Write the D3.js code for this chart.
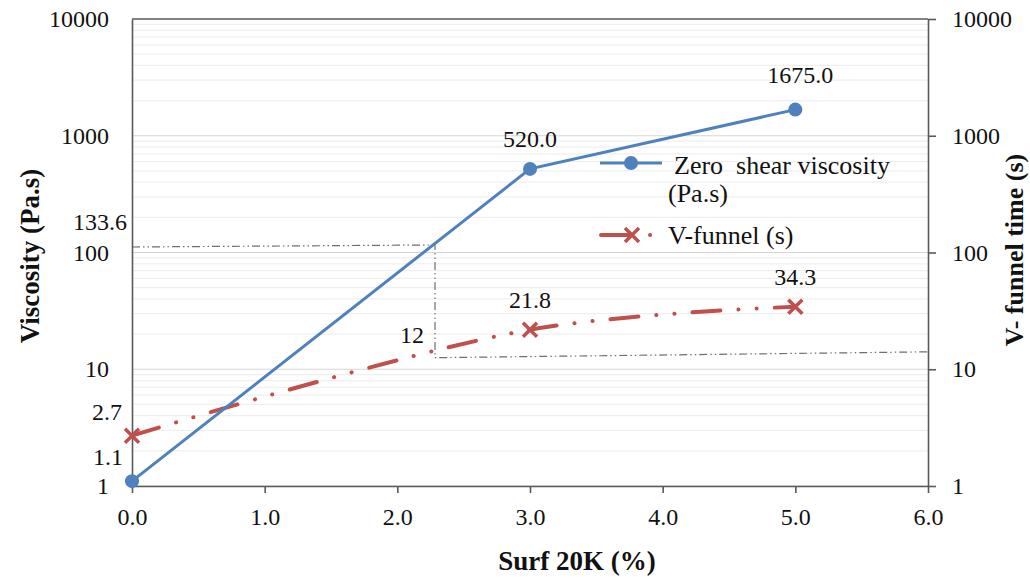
<!DOCTYPE html>
<html>
<head>
<meta charset="utf-8">
<script src="https://cdn.jsdelivr.net/npm/d3@7"></script>
<style>
  html, body { margin: 0; padding: 0; background: #fff; }
  svg { display: block; font-family: "Liberation Serif", "Times New Roman", serif; }
</style>
</head>
<body>
<svg id="chart" width="1030" height="578"></svg>
<script>
// ---------- data ----------
const surfX = [0, 3, 5];
const viscosity = [1.1, 520, 1675];
const vfunnel = [2.7, 21.8, 34.3];
const viscLabels = ["", "520.0", "1675.0"];
const vfunnelLabels = ["", "21.8", "34.3"];
const xTicks = [0, 1, 2, 3, 4, 5, 6];
const yTicks = [1, 10, 100, 1000, 10000];
const annotLabels = ["133.6", "2.7", "1.1", "12"];
const annotValues = [133.6, 2.7, 1.1, 12];
const annotXs = [0, 0, 0, 2.284];
const refLineX = [0, 2.284, 2.284, 6];
const refLineY = [111.5, 116, 12.56, 14.1];
const seriesNames = ["Zero  shear viscosity", "V-funnel (s)"];

// ---------- layout ----------
const L = 132, R = 928, T = 19, B = 486;
const svg = d3.select("#chart");
const x = d3.scaleLinear().domain([0, 6]).range([L, R]);
const y = d3.scaleLog().domain([1, 10000]).range([B, T]);
const blue = "#4F81BD", red = "#C0504D", axisCol = "#595959";

// gridlines
const gridVals = [];
for (let d = 1; d < 10000; d *= 10) for (let k = 1; k <= 9; k++) gridVals.push(d * k);
svg.append("g").selectAll("line").data(gridVals).join("line")
  .attr("x1", L).attr("x2", R)
  .attr("y1", d => y(d)).attr("y2", d => y(d))
  .attr("stroke", d => (Math.log10(d) % 1 === 0) ? "#d6d6d6" : "#efefef")
  .attr("stroke-width", 1.2);

// reference dash-dot-dot line
svg.append("path")
  .datum(refLineX.map((v, i) => [v, refLineY[i]]))
  .attr("d", d3.line().x(d => x(d[0])).y(d => y(d[1])))
  .attr("fill", "none").attr("stroke", "#6f6f6f").attr("stroke-width", 1.2)
  .attr("stroke-dasharray", "8,3,1.5,3,1.5,3");

// axes
const gL = svg.append("g").attr("transform", `translate(${L},0)`)
  .call(d3.axisLeft(y).tickValues(yTicks).tickFormat(d3.format("d")).tickSize(0).tickSizeOuter(0).tickPadding(23));
const gR = svg.append("g").attr("transform", `translate(${R},0)`)
  .call(d3.axisRight(y).tickValues(yTicks).tickFormat(d3.format("d")).tickSize(8).tickSizeOuter(0).tickPadding(16));
const gB = svg.append("g").attr("transform", `translate(0,${B})`)
  .call(d3.axisBottom(x).tickValues(xTicks).tickFormat(d3.format(".1f")).tickSize(7).tickSizeOuter(0).tickPadding(15));
[gL, gR, gB].forEach(g => {
  g.selectAll("path.domain").attr("stroke", axisCol).attr("stroke-width", 1.6);
  g.selectAll(".tick line").attr("stroke", axisCol).attr("stroke-width", 1.6);
  g.selectAll("text").attr("font-size", 24).attr("fill", "#111")
    .attr("font-family", "'Liberation Serif','Times New Roman',serif");
});
// top border
svg.append("line").attr("x1", L).attr("x2", R).attr("y1", T).attr("y2", T)
  .attr("stroke", axisCol).attr("stroke-width", 1.6);

// annotation labels (manual text boxes in original)
const annotDx = [-5, -10, -9, -11];
const annotDy = [-16, -24, -25, -25];
svg.append("g").selectAll("text").data(annotLabels).join("text")
  .attr("x", (d, i) => x(annotXs[i]) + annotDx[i])
  .attr("y", (d, i) => y(annotValues[i]) + annotDy[i])
  .attr("dy", "0.35em").attr("text-anchor", "end")
  .attr("font-size", 24).attr("fill", "#111").text(d => d);

// series lines
const viscData = surfX.map((v, i) => [v, viscosity[i], viscLabels[i]]);
const vfData = surfX.map((v, i) => [v, vfunnel[i], vfunnelLabels[i]]);

svg.append("path").datum(vfData)
  .attr("d", d3.line().x(d => x(d[0])).y(d => y(d[1])).curve(d3.curveCatmullRom.alpha(0.5)))
  .attr("fill", "none").attr("stroke", red).attr("stroke-width", 4)
  .attr("stroke-linecap", "round").attr("stroke-dasharray", "28,18,0.1,18,0.1,18");

svg.append("path").datum(viscData)
  .attr("d", d3.line().x(d => x(d[0])).y(d => y(d[1])))
  .attr("fill", "none").attr("stroke", blue).attr("stroke-width", 3);

// markers
svg.append("g").selectAll("circle").data(viscData).join("circle")
  .attr("cx", d => x(d[0])).attr("cy", d => y(d[1])).attr("r", 7).attr("fill", blue);

const xMark = (g, cx, cy, s) => {
  g.append("path")
    .attr("d", `M${cx - s},${cy - s}L${cx + s},${cy + s}M${cx - s},${cy + s}L${cx + s},${cy - s}`)
    .attr("stroke", red).attr("stroke-width", 3.5).attr("fill", "none");
};
const gX = svg.append("g");
vfData.forEach(d => xMark(gX, x(d[0]), y(d[1]), 7));

// data labels
svg.append("g").selectAll("text").data(viscData.concat(vfData)).join("text")
  .attr("x", d => x(d[0]) + (d[2] === "1675.0" ? 5 : 0))
  .attr("y", d => y(d[1]) - (d[2] === "1675.0" ? 35 : 30))
  .attr("dy", "0.35em").attr("text-anchor", "middle")
  .attr("font-size", 24).attr("fill", "#111").text(d => d[2]);

// legend
const lg = svg.append("g");
lg.append("line").attr("x1", 600).attr("x2", 662).attr("y1", 163).attr("y2", 163)
  .attr("stroke", blue).attr("stroke-width", 3);
lg.append("circle").attr("cx", 631).attr("cy", 163).attr("r", 7).attr("fill", blue);
lg.append("text").attr("x", 674).attr("y", 165).attr("dy", "0.35em")
  .attr("font-size", 26).attr("fill", "#111").style("white-space", "pre").text(seriesNames[0]);
lg.append("text").attr("x", 668).attr("y", 193).attr("dy", "0.35em")
  .attr("font-size", 26).attr("fill", "#111").text("(Pa.s)");
lg.append("line").attr("x1", 601).attr("x2", 652).attr("y1", 235).attr("y2", 235)
  .attr("stroke", red).attr("stroke-width", 4).attr("stroke-linecap", "round")
  .attr("stroke-dasharray", "30,19,0.1,100");
xMark(lg, 632, 235, 7);
lg.append("text").attr("x", 668).attr("y", 235).attr("dy", "0.35em")
  .attr("font-size", 26).attr("fill", "#111").text(seriesNames[1]);

// axis titles
svg.append("text").attr("transform", "translate(39,256) rotate(-90)")
  .attr("text-anchor", "middle").attr("font-size", 27).attr("font-weight", "bold")
  .attr("fill", "#111").text("Viscosity (Pa.s)");
svg.append("text").attr("transform", "translate(1023,250) rotate(-90)")
  .attr("text-anchor", "middle").attr("font-size", 26).attr("font-weight", "bold")
  .attr("fill", "#111").text("V- funnel time (s)");
svg.append("text").attr("x", 577).attr("y", 570)
  .attr("text-anchor", "middle").attr("font-size", 27).attr("font-weight", "bold")
  .attr("fill", "#111").text("Surf 20K (%)");
</script>
</body>
</html>
